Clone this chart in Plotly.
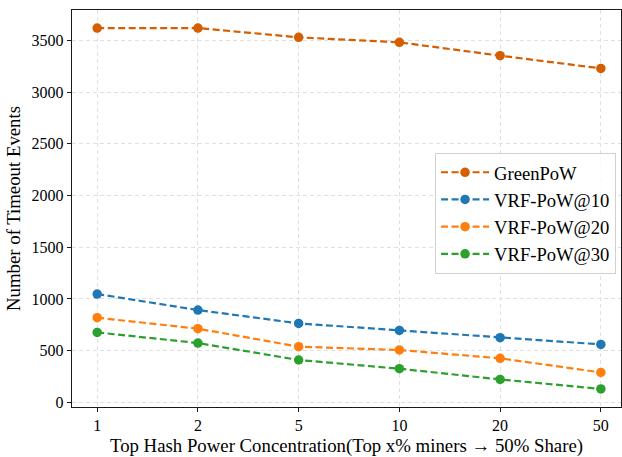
import plotly.graph_objects as go

categories = ["1", "2", "5", "10", "20", "50"]
green_pow = [3620, 3620, 3530, 3482, 3353, 3230]
vrf_10 = [1048, 893, 764, 696, 626, 561]
vrf_20 = [819, 713, 539, 507, 426, 290]
vrf_30 = [677, 574, 410, 326, 222, 130]

series = [
    ("GreenPoW", green_pow, "#d55e00"),
    ("VRF-PoW@10", vrf_10, "#1f77b4"),
    ("VRF-PoW@20", vrf_20, "#ff7f0e"),
    ("VRF-PoW@30", vrf_30, "#2ca02c"),
]

fig = go.Figure()
xidx = list(range(len(categories)))
for name, vals, color in series:
    fig.add_trace(go.Scatter(
        x=xidx, y=vals, name=name, mode="lines+markers",
        line=dict(color=color, width=2.2, dash="7px,3.5px"),
        marker=dict(color=color, size=9.5),
    ))

font = "Liberation Serif, Times New Roman, serif"
fig.update_layout(
    width=622, height=457,
    margin=dict(l=72, r=1, t=10, b=50),
    paper_bgcolor="white", plot_bgcolor="white",
    font=dict(family=font, size=16, color="black"),
    showlegend=True,
    legend=dict(
        x=0.991, y=0.6406, xanchor="right", yanchor="top",
        bgcolor="rgba(255,255,255,0.8)", bordercolor="#d0d0d0", borderwidth=1,
        font=dict(family=font, size=18.6), itemwidth=48,
    ),
)
fig.update_xaxes(
    range=[-0.25, 5.2], tickmode="array", tickvals=xidx, ticktext=categories,
    showgrid=True, gridcolor="#e0e0e0", griddash="4px,3px", gridwidth=1,
    showline=True, linecolor="#1a1a1a", linewidth=1.4, mirror=True,
    ticks="outside", ticklen=4, tickcolor="#1a1a1a",
    zeroline=False,
    title=dict(text="Top Hash Power Concentration(Top x% miners \u2192 50% Share)",
               font=dict(family=font, size=18.8), standoff=8),
    tickfont=dict(family=font, size=16),
)
fig.update_yaxes(
    range=[-44.5, 3794.5], tickvals=[0, 500, 1000, 1500, 2000, 2500, 3000, 3500],
    showgrid=True, gridcolor="#e0e0e0", griddash="4px,3px", gridwidth=1,
    showline=True, linecolor="#1a1a1a", linewidth=1.4, mirror=True,
    ticks="outside", ticklen=4, tickcolor="#1a1a1a",
    zeroline=False,
    title=dict(text="Number of Timeout Events", font=dict(family=font, size=18.8), standoff=6),
    tickfont=dict(family=font, size=16),
)
fig.write_html("out.html")
